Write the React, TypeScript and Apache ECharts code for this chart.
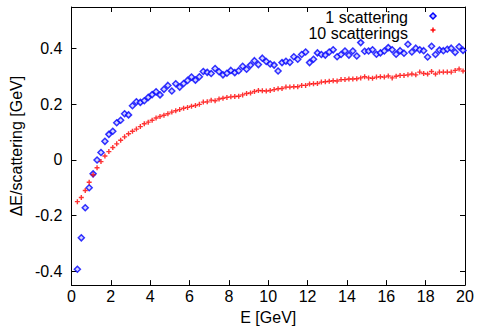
import React, { useEffect, useRef } from "react";
import * as echarts from "echarts";

const energies = [
  0.3, 0.5, 0.7, 0.9, 1.1, 1.3, 1.5, 1.7, 1.9, 2.1, 2.3, 2.5, 2.7, 2.9, 3.1, 3.3, 3.5, 3.7, 3.9, 4.1,
  4.3, 4.5, 4.7, 4.9, 5.1, 5.3, 5.5, 5.7, 5.9, 6.1, 6.3, 6.5, 6.7, 6.9, 7.1, 7.3, 7.5, 7.7, 7.9, 8.1,
  8.3, 8.5, 8.7, 8.9, 9.1, 9.3, 9.5, 9.7, 9.9, 10.1, 10.3, 10.5, 10.7, 10.9, 11.1, 11.3, 11.5, 11.7, 11.9, 12.1,
  12.3, 12.5, 12.7, 12.9, 13.1, 13.3, 13.5, 13.7, 13.9, 14.1, 14.3, 14.5, 14.7, 14.9, 15.1, 15.3, 15.5, 15.7, 15.9, 16.1,
  16.3, 16.5, 16.7, 16.9, 17.1, 17.3, 17.5, 17.7, 17.9, 18.1, 18.3, 18.5, 18.7, 18.9, 19.1, 19.3, 19.5, 19.7, 19.9,
];

const oneScattering = [
  -0.393, -0.28, -0.172, -0.1, -0.05, 0.0, 0.027, 0.067, 0.092, 0.103, 0.134, 0.143, 0.166, 0.162, 0.195, 0.209, 0.207, 0.213, 0.225, 0.235,
  0.245, 0.234, 0.254, 0.268, 0.248, 0.274, 0.262, 0.275, 0.286, 0.298, 0.287, 0.299, 0.318, 0.315, 0.311, 0.329, 0.317, 0.306, 0.312, 0.322,
  0.314, 0.321, 0.337, 0.326, 0.341, 0.357, 0.343, 0.366, 0.354, 0.345, 0.341, 0.32, 0.35, 0.355, 0.351, 0.371, 0.362, 0.379, 0.388, 0.35,
  0.362, 0.385, 0.379, 0.377, 0.388, 0.396, 0.371, 0.379, 0.392, 0.377, 0.392, 0.374, 0.422, 0.391, 0.392, 0.396, 0.38, 0.385, 0.392, 0.404,
  0.396, 0.38, 0.393, 0.384, 0.416, 0.388, 0.402, 0.396, 0.393, 0.37, 0.409, 0.379, 0.395, 0.393, 0.398, 0.402, 0.387, 0.407, 0.394,
];

const tenScatterings = [
  -0.15, -0.135, -0.11, -0.08, -0.053, -0.028, -0.006, 0.014, 0.03, 0.045, 0.058, 0.071, 0.083, 0.094, 0.103, 0.111, 0.12, 0.13, 0.136, 0.143,
  0.151, 0.156, 0.161, 0.166, 0.172, 0.177, 0.181, 0.186, 0.189, 0.193, 0.196, 0.2, 0.208, 0.209, 0.215, 0.213, 0.219, 0.222, 0.225, 0.227,
  0.228, 0.229, 0.234, 0.239, 0.241, 0.246, 0.25, 0.249, 0.248, 0.25, 0.253, 0.256, 0.257, 0.262, 0.262, 0.263, 0.263, 0.268, 0.268, 0.273,
  0.274, 0.275, 0.28, 0.281, 0.283, 0.285, 0.284, 0.289, 0.289, 0.291, 0.291, 0.292, 0.295, 0.299, 0.295, 0.294, 0.298, 0.299, 0.298, 0.302,
  0.295, 0.301, 0.304, 0.304, 0.306, 0.309, 0.306, 0.316, 0.311, 0.309, 0.318, 0.309, 0.316, 0.316, 0.316, 0.316, 0.322, 0.327, 0.32,
];

const yTicks = [-0.4, -0.2, 0, 0.2, 0.4];

const FONT = "Liberation Sans, Arial, sans-serif";
const PLUS = "path://M3.6,0H6.4V3.6H10V6.4H6.4V10H3.6V6.4H0V3.6H3.6Z";

export default function App() {
  const ref = useRef<HTMLDivElement>(null);
  useEffect(() => {
    if (!ref.current) return;
    const chart = echarts.init(ref.current, undefined, { renderer: "svg" });
    const axisLine = { show: true, onZero: false, lineStyle: { color: "#000", width: 1 } };
    const tick = { show: true, inside: true, length: 5, lineStyle: { color: "#000", width: 1 } };
    const label = { color: "#000", fontSize: 16, fontFamily: FONT };
    const fmtY = (v: number) => (Math.abs(v) < 1e-9 ? "0" : v.toFixed(1));
    chart.setOption({
      animation: false,
      backgroundColor: "#fff",
      grid: { left: 66, right: 12, top: 7, bottom: 38 },
      xAxis: [
        {
          type: "value", position: "bottom", min: 0, max: 20, interval: 2,
          axisLine, axisTick: tick, splitLine: { show: false },
          axisLabel: { ...label, margin: 3 },
          name: "E [GeV]", nameLocation: "middle", nameGap: 19,
          nameTextStyle: { ...label },
        },
        {
          type: "value", position: "top", min: 0, max: 20, interval: 2,
          axisLine, axisTick: tick, splitLine: { show: false }, axisLabel: { show: false },
        },
      ],
      yAxis: [
        {
          type: "value", position: "left", min: -0.45, max: 0.55,
          axisLine, splitLine: { show: false },
          axisTick: { ...tick, customValues: yTicks },
          axisLabel: { ...label, margin: 9, customValues: yTicks, formatter: fmtY },
          name: "ΔE/scattering [GeV]", nameLocation: "middle", nameGap: 40,
          nameTextStyle: { ...label },
        },
        {
          type: "value", position: "right", min: -0.45, max: 0.55,
          axisLine, splitLine: { show: false },
          axisTick: { ...tick, customValues: yTicks },
          axisLabel: { show: false, customValues: yTicks },
        },
      ],
      series: [
        {
          name: "1 scattering", type: "scatter", xAxisIndex: 0, yAxisIndex: 0,
          symbol: "diamond", symbolSize: 6,
          itemStyle: { color: "#c8c8ff", borderColor: "#0000ff", borderWidth: 1.5 },
          data: energies.map((e, i) => [e, oneScattering[i]]),
        },
        {
          name: "10 scatterings", type: "scatter", xAxisIndex: 0, yAxisIndex: 0,
          symbol: PLUS, symbolSize: 5,
          itemStyle: { color: "#ff0000" },
          data: energies.map((e, i) => [e, tenScatterings[i]]),
        },
      ],
      graphic: [
        {
          type: "text", x: 408, y: 17,
          style: { text: "1 scattering", fill: "#000", font: `16px ${FONT}`, textAlign: "right", textVerticalAlign: "middle" },
        },
        {
          type: "text", x: 408, y: 33,
          style: { text: "10 scatterings", fill: "#000", font: `16px ${FONT}`, textAlign: "right", textVerticalAlign: "middle" },
        },
        {
          type: "polygon", shape: { points: [[433, 13], [436, 16], [433, 19], [430, 16]] },
          style: { fill: "#c8c8ff", stroke: "#0000ff", lineWidth: 1.5 },
        },
        {
          type: "group", x: 433, y: 30,
          children: [
            { type: "rect", shape: { x: -2.5, y: -0.7, width: 5, height: 1.4 }, style: { fill: "#ff0000" } },
            { type: "rect", shape: { x: -0.7, y: -2.5, width: 1.4, height: 5 }, style: { fill: "#ff0000" } },
          ],
        },
      ],
    });
    return () => chart.dispose();
  }, []);
  return <div ref={ref} style={{ position: "absolute", left: 0, top: 0, width: 477, height: 330 }} />;
}
